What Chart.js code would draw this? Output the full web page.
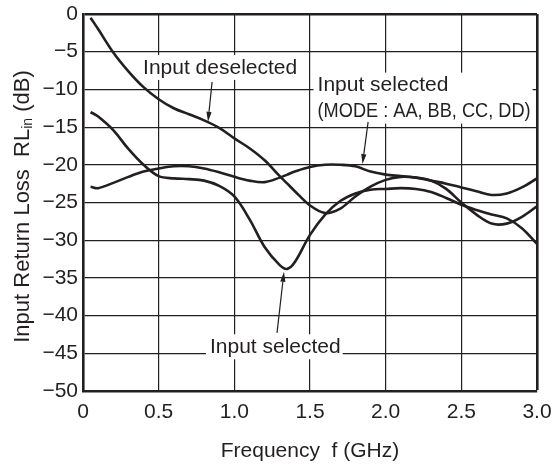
<!DOCTYPE html>
<html>
<head>
<meta charset="utf-8">
<script src="https://cdn.jsdelivr.net/npm/chart.js@4.4.1/dist/chart.umd.min.js"></script>
<style>
  html, body { margin: 0; padding: 0; background: #fff; }
  #wrap { width: 553px; height: 468px; }
</style>
</head>
<body>
<div id="wrap"><canvas id="rl" width="553" height="468"></canvas></div>
<script>
// 周波数 (GHz)
const freq = [0.05, 0.1, 0.2, 0.3, 0.4, 0.5, 0.6, 0.7, 0.8, 0.9, 1.0, 1.1, 1.2, 1.3, 1.35, 1.4,
  1.5, 1.6, 1.7, 1.8, 1.9, 2.0, 2.1, 2.2, 2.3, 2.4, 2.5, 2.6, 2.7, 2.8, 2.9, 3.0];

// Input deselected (dB)
const rlDeselected = [-0.5, -2.0, -5.1, -7.6, -9.7, -11.3, -12.5, -13.3, -14.1, -15.1, -16.5, -17.8, -19.4, -21.5, -22.5, -23.5,
  -25.4, -26.4, -25.8, -24.2, -22.9, -22.0, -21.6, -21.7, -22.1, -23.2, -25.0, -26.6, -27.8, -27.8, -26.9, -25.5];

// Input selected (dB)
const rlSelected = [-13.0, -13.6, -15.4, -17.9, -20.0, -21.5, -21.8, -21.9, -22.1, -22.8, -24.2, -27.2, -30.9, -33.3, -33.8, -32.9,
  -29.3, -26.6, -24.8, -23.8, -23.3, -23.2, -23.1, -23.2, -23.6, -24.4, -25.3, -26.0, -26.6, -27.1, -28.4, -30.5];

// Input selected (MODE : AA, BB, CC, DD) (dB)
const rlSelectedMode = [-22.9, -23.1, -22.4, -21.6, -20.9, -20.5, -20.2, -20.2, -20.5, -21.0, -21.6, -22.1, -22.3, -21.7, -21.3, -20.9,
  -20.3, -20.0, -20.0, -20.2, -20.9, -21.3, -21.5, -21.7, -22.1, -22.5, -23.0, -23.5, -24.0, -23.8, -23.0, -21.8];

const xTickLabels = ['0', '0.5', '1.0', '1.5', '2.0', '2.5', '3.0'];
const yTickLabels = ['0', '−5', '−10', '−15', '−20', '−25', '−30', '−35', '−40', '−45', '−50'];

const INK = '#231f20';
const FAMILY = '"Liberation Sans", Arial, Helvetica, sans-serif';
const FONT = `21px ${FAMILY}`;

Chart.defaults.font.family = FAMILY;
Chart.defaults.color = INK;

/**
 * 注釈（ラベル・矢印）: 位置はデータ座標で指定
 */
const annoLabels = [
  { lines: ['Input deselected'], x: 0.397, y: -7.15 },
  { lines: ['Input selected', '(MODE : AA, BB, CC, DD)'], x: 1.55, y: -9.5, maxW: [null, 213] },
  { lines: ['Input selected'], x: 0.839, y: -44.2 },
];
const annoArrows = [
  { from: [0.853, -9.0], to: [0.826, -14.3] },
  { from: [1.884, -14.3], to: [1.847, -19.9] },
  { from: [1.282, -42.3], to: [1.328, -34.2] },
];
const LINE_H = 26;

function labelWidth(ctx, l) {
  return Math.max(...l.lines.map((s, i) => {
    const w = ctx.measureText(s).width;
    const m = l.maxW && l.maxW[i];
    return m ? Math.min(w, m) : w;
  }));
}

function drawArrow(ctx, x1, y1, x2, y2) {
  const ang = Math.atan2(y2 - y1, x2 - x1);
  const len = 10, half = 2.6;
  ctx.beginPath();
  ctx.moveTo(x1, y1);
  ctx.lineTo(x2 - Math.cos(ang) * len, y2 - Math.sin(ang) * len);
  ctx.stroke();
  ctx.beginPath();
  ctx.moveTo(x2, y2);
  ctx.lineTo(x2 - Math.cos(ang) * len - Math.sin(ang) * half, y2 - Math.sin(ang) * len + Math.cos(ang) * half);
  ctx.lineTo(x2 - Math.cos(ang) * len + Math.sin(ang) * half, y2 - Math.sin(ang) * len - Math.cos(ang) * half);
  ctx.closePath();
  ctx.fill();
}

const annotatePlugin = {
  id: 'annotate',
  beforeDatasetsDraw(chart) {
    // ラベル背景で格子を隠す
    const { ctx, scales: { x, y } } = chart;
    ctx.save();
    ctx.font = FONT;
    ctx.fillStyle = '#fff';
    annoLabels.forEach(l => {
      const px = x.getPixelForValue(l.x);
      const py = y.getPixelForValue(l.y);
      const w = labelWidth(ctx, l);
      ctx.fillRect(px - 4, py - 13, w + 6, (l.lines.length - 1) * LINE_H + 25);
    });
    ctx.restore();
  },
  afterDatasetsDraw(chart) {
    const { ctx, scales: { x, y } } = chart;
    ctx.save();
    ctx.font = FONT;
    ctx.fillStyle = INK;
    ctx.strokeStyle = INK;
    ctx.textAlign = 'left';
    ctx.textBaseline = 'middle';
    annoLabels.forEach(l => {
      const px = x.getPixelForValue(l.x);
      const py = y.getPixelForValue(l.y);
      l.lines.forEach((s, i) => {
        const m = l.maxW && l.maxW[i];
        if (m) ctx.fillText(s, px, py + i * LINE_H, m);
        else ctx.fillText(s, px, py + i * LINE_H);
      });
    });
    ctx.lineWidth = 1.2;
    annoArrows.forEach(a => {
      drawArrow(ctx,
        x.getPixelForValue(a.from[0]), y.getPixelForValue(a.from[1]),
        x.getPixelForValue(a.to[0]), y.getPixelForValue(a.to[1]));
    });
    ctx.restore();
  },
  afterDraw(chart) {
    // 軸タイトル（RLin の下付き文字のため自前描画）
    const { ctx, chartArea } = chart;
    ctx.save();
    ctx.fillStyle = INK;
    ctx.font = FONT;
    ctx.textAlign = 'center';
    ctx.textBaseline = 'middle';
    ctx.fillText('Frequency  f (GHz)', (chartArea.left + chartArea.right) / 2, 451);

    const big = `22px ${FAMILY}`, small = `14px ${FAMILY}`;
    const parts = [
      { t: 'Input Return Loss  RL', f: big, dy: 0 },
      { t: 'in', f: small, dy: 3 },
      { t: ' (dB)', f: big, dy: 0 },
    ];
    let total = 0;
    parts.forEach(p => { ctx.font = p.f; p.w = ctx.measureText(p.t).width; total += p.w; });
    ctx.translate(28.5, 206.5);
    ctx.rotate(-Math.PI / 2);
    ctx.textAlign = 'left';
    ctx.textBaseline = 'alphabetic';
    let cx = -total / 2;
    parts.forEach(p => {
      ctx.font = p.f;
      ctx.fillText(p.t, cx, p.dy);
      cx += p.w;
    });
    ctx.restore();
  },
};

function series(values) {
  return freq.map((f, i) => ({ x: f, y: values[i] }));
}

const curveStyle = {
  borderColor: INK,
  borderWidth: 2.6,
  pointRadius: 0,
  fill: false,
  tension: 0.35,
};

new Chart(document.getElementById('rl').getContext('2d'), {
  type: 'line',
  data: {
    datasets: [
      { label: 'Input deselected', data: series(rlDeselected), ...curveStyle },
      { label: 'Input selected', data: series(rlSelected), ...curveStyle },
      { label: 'Input selected (MODE : AA, BB, CC, DD)', data: series(rlSelectedMode), ...curveStyle },
    ],
  },
  options: {
    responsive: false,
    animation: false,
    devicePixelRatio: 1,
    layout: { padding: { top: 14, right: 16, left: 0, bottom: 0 } },
    scales: {
      x: {
        type: 'linear',
        min: 0,
        max: 3,
        afterFit: s => { s.height = 77; s.paddingLeft = 0; s.paddingRight = 0; },
        ticks: {
          stepSize: 0.5,
          padding: 9,
          font: { size: 21 },
          color: INK,
          maxRotation: 0,
          callback: v => xTickLabels[Math.round(v / 0.5)],
        },
        grid: {
          color: INK,
          lineWidth: c => (c.tick && c.tick.value === 3 ? 2.6 : 1.2),
          drawTicks: false,
        },
        border: { color: INK, width: 2.6 },
      },
      y: {
        min: -50,
        max: 0,
        afterFit: s => { s.width = 83; s.paddingTop = 0; s.paddingBottom = 0; },
        ticks: {
          stepSize: 5,
          padding: 5,
          font: { size: 21 },
          color: INK,
          callback: v => yTickLabels[Math.round(-v / 5)],
        },
        grid: {
          color: INK,
          lineWidth: c => (c.tick && c.tick.value === 0 ? 2.6 : 1.2),
          drawTicks: false,
        },
        border: { color: INK, width: 2.6 },
      },
    },
    plugins: {
      legend: { display: false },
      tooltip: { enabled: false },
    },
  },
  plugins: [annotatePlugin],
});
</script>
</body>
</html>
